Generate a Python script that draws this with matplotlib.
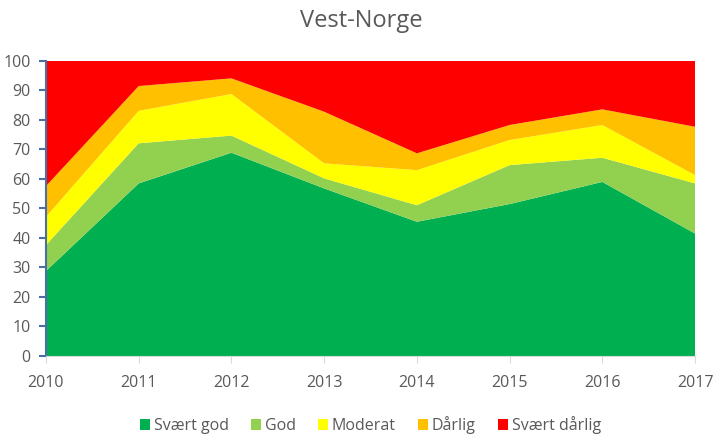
import matplotlib
matplotlib.use("Agg")
import matplotlib.pyplot as plt

years = [2010, 2011, 2012, 2013, 2014, 2015, 2016, 2017]

# andel (%) per tilstandsklasse
svaert_god = [28.8, 58.5, 68.9, 56.8, 45.5, 51.5, 59.0, 41.5]
god = [8.8, 13.6, 5.8, 3.4, 5.6, 13.2, 8.2, 17.0]
moderat = [9.6, 11.0, 14.1, 5.1, 11.9, 8.5, 11.1, 2.8]
darlig = [10.4, 8.4, 5.3, 17.5, 5.7, 5.1, 5.3, 16.4]
svaert_darlig = [42.4, 8.5, 5.9, 17.2, 31.3, 21.7, 16.4, 22.3]

labels = ["Svært god", "God", "Moderat", "Dårlig", "Svært dårlig"]
colors = ["#00B050", "#92D050", "#FFFF00", "#FFC000", "#FF0000"]

plt.rcParams['font.family'] = ['Open Sans', 'DejaVu Sans']

fig = plt.figure(figsize=(7.22, 4.45), dpi=100)
ax = fig.add_axes([0.0637, 0.2, 0.899, 0.663])

ax.stackplot(years, svaert_god, god, moderat, darlig, svaert_darlig,
             labels=labels, colors=colors, linewidth=0)

ax.set_xlim(2010, 2017)
ax.set_ylim(0, 100)
ax.set_yticks(range(0, 101, 10))
ax.set_xticks(years)

for s in ["top", "right"]:
    ax.spines[s].set_visible(False)
ax.spines["left"].set_color("#4A6FA5")
ax.spines["left"].set_linewidth(1.5)
ax.spines["bottom"].set_color("#D9D9D9")
ax.tick_params(axis="y", colors="#4A6FA5", labelcolor="#595959", length=5,
               width=1.5, labelsize=11.5, pad=6)
ax.tick_params(axis="x", colors="#D9D9D9", labelcolor="#595959", length=5,
               labelsize=11.5, pad=9)

fig.suptitle("Vest-Norge", y=0.98, fontsize=17, color="#595959")

ax.legend(loc="upper center", bbox_to_anchor=(0.5, -0.155), ncol=5,
          frameon=False, fontsize=11.5, handlelength=0.6, handleheight=0.6,
          handletextpad=0.25, columnspacing=1.4, labelcolor="#595959")

fig.savefig("out.png", dpi=100)
